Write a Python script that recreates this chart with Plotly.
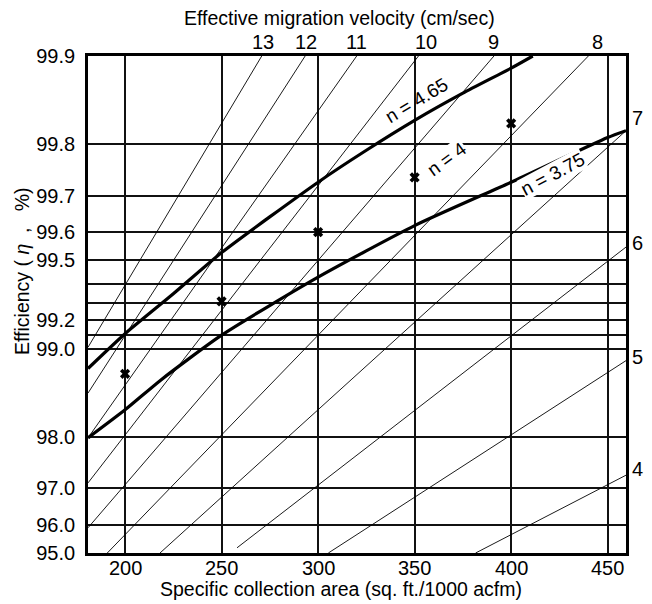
import math
import plotly.graph_objects as go

# ---------------- data ----------------
area_ticks = [200, 250, 300, 350, 400, 450]
eff_grid = [99.9, 99.8, 99.7, 99.6, 99.5, 99.4, 99.3, 99.2, 99.1, 99.0, 98.0, 97.0, 96.0, 95.0]
eff_grid_labels = ["99.9", "99.8", "99.7", "99.6", "99.5", "", "", "99.2", "", "99.0",
                   "98.0", "97.0", "96.0", "95.0"]

# constant effective migration velocity lines (cm/sec): start / end points
velocity = [13, 12, 11, 10, 9, 8, 7, 6, 5, 4]
line_area_start = [180.8, 180.8, 180.8, 180.8, 180.8, 190.8, 218.1, 258.0, 305.3, 381.6]
line_eff_start = [99.01, 98.58, 97.98, 97.12, 95.90, 95.0, 95.0, 95.2, 95.0, 95.0]
line_area_end = [270.8, 293.3, 320.0, 352.0, 391.1, 440.0, 459.5, 459.5, 459.5, 459.5]
line_eff_end = [99.9, 99.9, 99.9, 99.9, 99.9, 99.9, 99.82, 99.55, 98.90, 97.29]

# label positions for velocity numbers
top_velocity = ["13", "12", "11", "10", "9", "8"]
top_velocity_area = [271.4, 293.7, 320.1, 355.8, 391.0, 444.8]
right_velocity = ["7", "6", "5", "4"]
right_velocity_eff = [99.837, 99.564, 98.93, 97.41]

# thick curves
upper_area = [180.8, 200, 225, 250, 300, 325, 350, 375, 400, 411.2]
upper_eff = [98.83, 99.11, 99.35, 99.53, 99.73, 99.79, 99.834, 99.866, 99.89, 99.90]
lower_area = [180.8, 200, 218.6, 250, 300, 350, 400, 450, 459.5]
lower_eff = [97.98, 98.38, 98.72, 99.10, 99.43, 99.62, 99.73, 99.81, 99.82]

# measured points
point_area = [200, 250, 300, 350, 400]
point_eff = [98.78, 99.31, 99.60, 99.74, 99.83]

# ---------------- figure ----------------
FONT = "Liberation Sans"
W, H = 652, 604
L, R, T, B = 88, 26, 56, 51
TICK_SIZE = 20


def px_x(px):
    return (px - L) / (W - L - R)


def px_y(py):
    return (H - B - py) / (H - T - B)


def pen(e):
    return 100.0 - e


fig = go.Figure()

for w, a0, e0, a1, e1 in zip(velocity, line_area_start, line_eff_start, line_area_end, line_eff_end):
    fig.add_trace(go.Scatter(x=[a0, a1], y=[pen(e0), pen(e1)], mode="lines",
                             line=dict(color="black", width=0.9), hoverinfo="skip",
                             showlegend=False))

fig.add_trace(go.Scatter(x=upper_area, y=[pen(e) for e in upper_eff], mode="lines",
                         line=dict(color="black", width=3.2, shape="spline", smoothing=0.6),
                         showlegend=False))
fig.add_trace(go.Scatter(x=lower_area, y=[pen(e) for e in lower_eff], mode="lines",
                         line=dict(color="black", width=3.2, shape="spline", smoothing=0.6),
                         showlegend=False))
fig.add_trace(go.Scatter(x=point_area, y=[pen(e) for e in point_eff], mode="markers",
                         marker=dict(symbol="x", size=9, color="black"),
                         showlegend=False))

annotations = []
# x tick labels
for a in area_ticks:
    annotations.append(dict(text=str(a), x=a, xref="x", y=px_y(568), yref="paper",
                            xanchor="center", yanchor="middle", showarrow=False,
                            font=dict(family=FONT, size=TICK_SIZE, color="black")))
for t, a in zip(top_velocity, top_velocity_area):
    annotations.append(dict(text=t, x=a, xref="x", y=px_y(42), yref="paper",
                            xanchor="center", yanchor="middle", showarrow=False,
                            font=dict(family=FONT, size=TICK_SIZE, color="black")))
for t, e in zip(right_velocity, right_velocity_eff):
    annotations.append(dict(text=t, x=px_x(637), xref="paper", y=math.log10(pen(e)), yref="y",
                            xanchor="center", yanchor="middle", showarrow=False,
                            font=dict(family=FONT, size=TICK_SIZE, color="black")))

n_labels = [("n = 4.65", 416.5, 100.5, -31, None),
            ("n = 4", 446, 159, -36, "white"),
            ("n = 3.75", 552, 174, -28, "white")]
for t, xp, yp, ang, bg in n_labels:
    ann = dict(text=t, x=px_x(xp), xref="paper", y=px_y(yp), yref="paper",
               xanchor="center", yanchor="middle", showarrow=False, textangle=ang,
               borderpad=0, font=dict(family=FONT, size=19, color="black"))
    if bg:
        ann["bgcolor"] = bg
    annotations.append(ann)

annotations.append(dict(text="Effective migration velocity (cm/sec)", x=px_x(339), xref="paper",
                        y=px_y(18), yref="paper", xanchor="center", yanchor="middle",
                        showarrow=False, font=dict(family=FONT, size=19.5, color="black")))
annotations.append(dict(text="Specific collection area (sq. ft./1000 acfm)", x=px_x(341),
                        xref="paper", y=px_y(589), yref="paper", xanchor="center",
                        yanchor="middle", showarrow=False,
                        font=dict(family=FONT, size=19.5, color="black")))
annotations.append(dict(text="Efficiency ( <i>η</i>\u00a0\u00a0,\u00a0\u00a0 %)", x=px_x(22),
                        xref="paper", y=px_y(271), yref="paper", xanchor="center",
                        yanchor="middle", textangle=-90, showarrow=False,
                        font=dict(family=FONT, size=19.5, color="black")))

fig.update_layout(
    width=W, height=H,
    margin=dict(l=L, r=R, t=T, b=B),
    paper_bgcolor="white", plot_bgcolor="white",
    font=dict(family=FONT, size=19, color="black"),
    annotations=annotations,
    xaxis=dict(range=[180.8, 459.5], tickvals=area_ticks, showticklabels=False,
               showgrid=True, gridcolor="#111", gridwidth=1.5, zeroline=False,
               showline=True, linecolor="black", linewidth=2.8, mirror=True, ticks=""),
    yaxis=dict(type="log", range=[math.log10(5), math.log10(0.1)],
               tickvals=[pen(e) for e in eff_grid], ticktext=eff_grid_labels,
               showgrid=True, gridcolor="#111", gridwidth=1.5, zeroline=False,
               showline=True, linecolor="black", linewidth=2.8, mirror=True,
               ticks="", ticklabelstandoff=6, tickfont=dict(size=TICK_SIZE)),
)

fig.write_html("out.html", config={"displayModeBar": False},
               post_script="document.body.style.margin='0px';")
